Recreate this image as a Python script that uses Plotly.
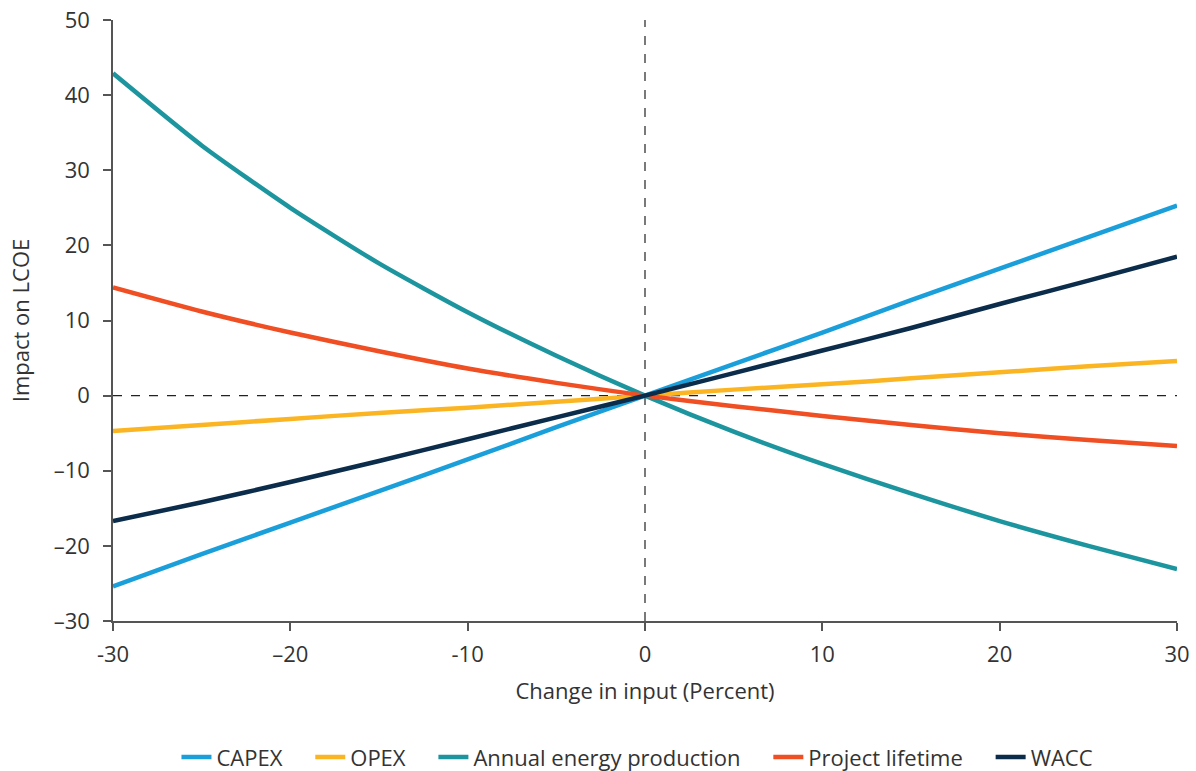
import plotly.graph_objects as go

change = [-30, -25, -20, -15, -10, -5, 0, 5, 10, 15, 20, 25, 30]
capex = [-25.4, -21.1, -16.9, -12.7, -8.5, -4.2, 0, 4.2, 8.4, 12.7, 16.9, 21.1, 25.3]
opex = [-4.7, -3.9, -3.1, -2.3, -1.6, -0.8, 0, 0.8, 1.5, 2.3, 3.1, 3.9, 4.6]
aep = [42.9, 33.3, 25.0, 17.6, 11.1, 5.3, 0, -4.8, -9.1, -13.0, -16.7, -20.0, -23.1]
lifetime = [14.4, 11.2, 8.4, 5.9, 3.6, 1.7, 0, -1.4, -2.7, -3.9, -5.0, -5.9, -6.7]
wacc = [-16.7, -14.2, -11.5, -8.7, -5.8, -2.9, 0, 3.0, 6.0, 9.0, 12.2, 15.3, 18.5]

series = [
    ("CAPEX", capex, "#1a9fdb"),
    ("OPEX", opex, "#fbb523"),
    ("Annual energy production", aep, "#1d959f"),
    ("Project lifetime", lifetime, "#f04e23"),
    ("WACC", wacc, "#0b2c4a"),
]

x_ticks = [-30, -20, -10, 0, 10, 20, 30]
x_ticktext = ["-30", "\u201320", "-10", "0", "10", "20", "30"]
y_ticks = [-30, -20, -10, 0, 10, 20, 30, 40, 50]
y_ticktext = ["\u201330", "\u201320", "\u201310", "0", "10", "20", "30", "40", "50"]

fig = go.Figure()
pad = "\u00a0" * 4
for i, (name, vals, color) in enumerate(series):
    label = name + (pad if i < len(series) - 1 else "")
    fig.add_trace(go.Scatter(x=change, y=vals, name=label, mode="lines",
                             line=dict(color=color, width=4.5, shape="spline", smoothing=0.6)))

fig.add_shape(type="line", xref="x", yref="y", x0=0, x1=0, y0=-30, y1=50,
              line=dict(color="#222", width=1.2, dash="dash"), layer="below")
fig.add_shape(type="line", xref="x", yref="y", x0=-30, x1=30, y0=0, y1=0,
              line=dict(color="#222", width=1.2, dash="dash"), layer="below")

font_family = "Open Sans, Lato, sans-serif"
FS = 22
fig.update_layout(
    width=1196, height=771,
    margin=dict(l=113, r=19, t=20, b=150, autoexpand=False),
    plot_bgcolor="white", paper_bgcolor="white",
    font=dict(family=font_family, size=FS, color="#333"),
    showlegend=True,
    legend=dict(orientation="h", x=0.533, xanchor="center", xref="container",
                y=0.018, yanchor="middle", yref="container",
                font=dict(size=FS, color="#333"), itemwidth=30),
    xaxis=dict(range=[-30, 30], tickvals=x_ticks, ticktext=x_ticktext, automargin=False,
               showgrid=False, zeroline=False, showline=True, linecolor="#555", linewidth=1.5,
               ticks="outside", ticklen=8, tickcolor="#555", tickwidth=1.5,
               ticklabelstandoff=5, ticklabeloverflow="allow",
               title=dict(text="Change in input (Percent)", standoff=16,
                          font=dict(size=FS, color="#333"))),
    yaxis=dict(range=[-30, 50], tickvals=y_ticks, ticktext=y_ticktext, automargin=False,
               showgrid=False, zeroline=False, showline=True, linecolor="#555", linewidth=1.5,
               ticks="outside", ticklen=8, tickcolor="#555", tickwidth=1.5,
               ticklabelstandoff=9, ticklabeloverflow="allow",
               title=dict(text="Impact on LCOE", standoff=18,
                          font=dict(size=FS, color="#333"))),
)

fig.write_html("out.html", config={"displayModeBar": False},
               post_script="document.body.style.margin='0';")
